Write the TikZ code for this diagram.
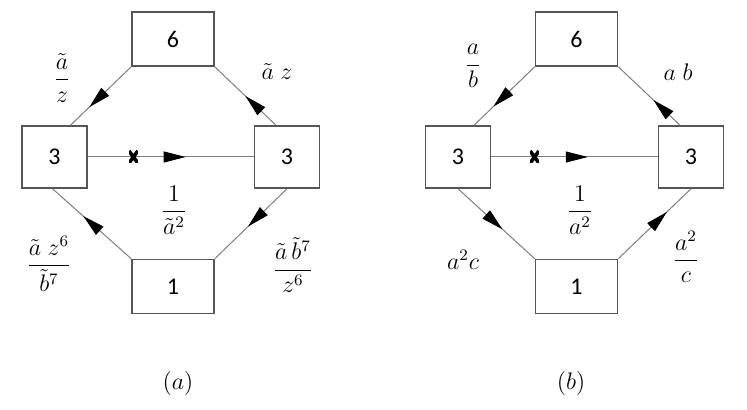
\documentclass[tikz,border=0pt]{standalone}
\usepackage{amsmath}
\usepackage{fontspec}
\setmainfont{Carlito}
\usetikzlibrary{arrows.meta}
\usetikzlibrary{decorations.markings}
\definecolor{boxgray}{RGB}{85,85,85}
\definecolor{linegray}{RGB}{125,125,125}
\tikzset{
    every node/.style={font=\fontsize{12}{14.4}\selectfont},
    block/.style={draw=boxgray, line width=0.75pt, rectangle, minimum width=41pt, minimum height=27pt},
    side/.style={block, minimum width=32.5pt, minimum height=31pt},
    link/.style={linegray, line width=0.5pt},
    midarrow/.style={link, postaction={decorate},
        decoration={markings, mark=at position #1 with {\arrow[black]{Triangle[length=11pt, width=5.5pt]}}}},
    midarrow/.default=0.6,
    weight/.style={inner sep=0pt},
    cut/.style={
        inner sep=0pt, minimum width=4.4pt, minimum height=6pt,
        path picture={
            \draw[black, line width=1.8pt]
                (path picture bounding box.south east)--(path picture bounding box.north west)
                (path picture bounding box.south west)--(path picture bounding box.north east);
        }
    }
}
\begin{document}
\begin{tikzpicture}[x=0.5pt, y=-0.5pt]
      \useasboundingbox (0,0) rectangle (747,410);

      % (a)
      \path
          (173,39) node[block] (top-a) {6}
          (54.5,157) node[side] (left-a) {3}
          (287,157) node[side] (right-a) {3}
          (173,286.5) node[block] (bottom-a) {1};

      \draw[midarrow=0.69] (top-a.south west) -- ([xshift=8pt]left-a.north);
      \draw[midarrow=0.5] ([xshift=-5.5pt]right-a.north) -- (top-a.south east);
      \draw[midarrow=0.61] (bottom-a.north west) -- ([xshift=-1pt]left-a.south);
      \draw[midarrow=0.54] (right-a.south) -- (bottom-a.north east);
      \draw[midarrow=0.59] (left-a) -- node[cut, pos=0.275] (cut-a) {} (right-a);

      \path
          (62,78) node[weight] (w-tl-a) {$\dfrac{\tilde{a}}{z}$}
          (277,72) node[weight] (w-tr-a) {$\tilde{a}\;z$}
          (174,210) node[weight] (w-mid-a) {$\dfrac{1}{\tilde{a}^2}$}
          (49,264) node[weight] (w-bl-a) {$\dfrac{\tilde{a}\;z^6}{\tilde{b}^7}$}
          (293,265) node[weight] (w-br-a) {$\dfrac{\tilde{a}\,\tilde{b}^7}{z^6}$}
          (178,383) node (cap-a) {$(a)$};

      % (b)
      \path
          (576.5,39) node[block] (top-b) {6}
          (458,157) node[side] (left-b) {3}
          (691,157) node[side] (right-b) {3}
          (576.5,286.5) node[block] (bottom-b) {1};

      \draw[midarrow=0.68] (top-b.south west) -- ([xshift=8pt]left-b.north);
      \draw[midarrow=0.43] ([xshift=-5.5pt]right-b.north) -- (top-b.south east);
      \draw[midarrow=0.58] (left-b.south) -- (bottom-b.north west);
      \draw[midarrow=0.67] (bottom-b.north east) -- (right-b.south);
      \draw[midarrow=0.58] (left-b) -- node[cut, pos=0.26] (cut-b) {} (right-b);

      \path
          (473,66) node[weight] (w-tl-b) {$\dfrac{a}{b}$}
          (678,72) node[weight] (w-tr-b) {$a\;b$}
          (580,210) node[weight] (w-mid-b) {$\dfrac{1}{a^2}$}
          (463,260) node[weight] (w-bl-b) {$a^2c$}
          (686,257) node[weight] (w-br-b) {$\dfrac{a^2}{c}$}
          (571,383) node (cap-b) {$(b)$};
    \end{tikzpicture}
\end{document}
